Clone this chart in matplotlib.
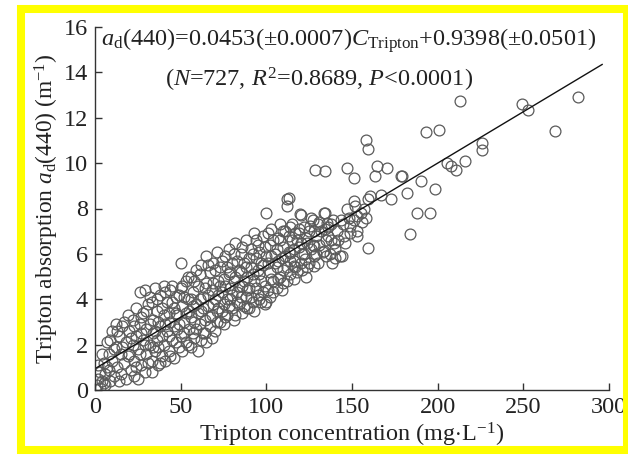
import numpy as np
import matplotlib.pyplot as plt
from matplotlib.patches import Rectangle

plt.rcParams['font.family'] = ['Liberation Serif', 'DejaVu Serif']
plt.rcParams['mathtext.fontset'] = 'custom'
plt.rcParams['mathtext.rm'] = 'Liberation Serif'
plt.rcParams['mathtext.it'] = 'Liberation Serif:italic'

# === Data: (tripton mg/L, a_d(440) 1/m) ===
cloud_low = [
    (1, 0.2), (2, 0.5), (3, 0.1), (3, 0.8), (4, 0.4), (5, 1.2), (5, 0.3), (6, 0.7), (7, 2.1), (8, 1.6),
    (8, 0.9), (9, 0.4), (10, 2.6), (10, 1.3), (11, 0.6), (12, 2.9), (12, 1.9), (13, 1.0), (14, 2.4), (15, 0.7),
    (15, 1.6), (16, 2.8), (17, 1.2), (18, 2.1), (18, 0.5), (19, 3.3), (20, 1.6), (20, 2.6), (21, 0.9), (22, 3.1),
    (22, 2.0), (23, 1.3), (24, 3.6), (24, 2.4), (25, 0.5), (25, 1.8), (26, 4.3), (26, 2.9), (27, 1.1), (28, 3.4),
    (28, 2.2), (29, 4.4), (29, 0.8), (30, 1.6), (30, 2.7), (31, 3.8), (32, 2.0), (32, 4.1), (33, 0.8), (33, 1.3),
    (34, 3.1), (34, 2.5), (35, 4.5), (35, 1.7), (36, 3.5), (36, 2.2), (37, 1.1), (38, 4.2), (38, 2.8), (39, 1.5),
    (40, 3.3), (40, 4.6), (40, 2.0), (41, 1.3), (42, 3.9), (42, 2.6), (43, 1.7), (44, 4.4), (44, 3.0), (45, 2.2),
    (46, 3.6), (46, 1.4), (47, 4.1), (48, 2.7), (48, 3.3), (49, 1.9), (50, 5.6), (50, 4.5), (50, 2.4), (51, 3.7),
    (51, 1.7), (52, 3.0), (53, 4.8), (53, 2.1), (54, 4.0), (55, 2.7), (55, 3.5), (56, 5.0), (56, 1.9), (57, 4.3),
    (58, 3.0), (58, 2.3), (59, 3.8), (59, 5.3),
    (2, 1.1), (4, 1.6), (6, 0.2), (7, 1.0), (9, 2.2), (11, 1.8), (13, 2.6), (14, 0.4), (16, 1.9), (17, 3.0),
    (19, 1.5), (21, 2.3), (23, 2.8), (23, 0.6), (24, 1.0), (26, 1.6), (27, 3.2), (27, 2.5), (29, 2.0), (30, 3.5),
    (31, 1.2), (32, 2.9), (33, 3.9), (34, 1.9), (35, 2.6), (36, 4.0), (37, 3.0), (37, 1.9), (38, 1.2), (39, 3.6),
    (39, 2.4), (41, 2.9), (41, 4.3), (43, 3.4), (43, 2.4), (44, 1.5), (45, 3.9), (45, 4.6), (46, 2.8), (47, 2.1),
    (47, 3.4), (49, 4.2), (49, 2.9), (51, 4.6), (52, 2.5), (52, 4.1), (53, 3.4), (54, 2.0), (54, 5.0), (56, 3.2),
    (56, 4.0), (57, 2.5), (57, 3.7), (58, 4.8), (59, 2.7),
]

cloud_mid = [
    (60, 1.7), (60, 4.6), (61, 2.9), (62, 3.5), (62, 5.5), (63, 4.1), (63, 2.5), (64, 3.1), (65, 5.9), (65, 2.1),
    (65, 4.7), (66, 3.7), (67, 5.2), (67, 2.8), (68, 4.4), (68, 3.3), (69, 5.6), (70, 4.0), (70, 2.6), (71, 6.1),
    (71, 3.5), (72, 4.8), (73, 3.0), (73, 5.4), (74, 4.3), (75, 2.9), (75, 3.8), (76, 5.9), (76, 4.6), (77, 3.3),
    (78, 5.1), (78, 6.2), (79, 4.0), (80, 3.6), (80, 5.6), (81, 4.8), (82, 3.3), (82, 6.5), (83, 4.3), (84, 5.3),
    (84, 3.8), (85, 6.0), (86, 4.6), (86, 3.4), (87, 5.6), (88, 4.1), (88, 6.6), (89, 5.0), (90, 3.6), (90, 4.5),
    (91, 6.2), (91, 5.4), (92, 3.9), (93, 4.8), (93, 6.9), (94, 5.8), (95, 4.2), (95, 6.4), (96, 5.1), (97, 3.9),
    (97, 5.6), (98, 6.8), (99, 4.6), (100, 7.8), (100, 3.9), (100, 5.9), (101, 4.4), (102, 6.4), (102, 5.2), (103, 7.1),
    (104, 4.8), (105, 5.6), (105, 6.0), (106, 4.5), (107, 6.7), (108, 5.0), (108, 7.3), (109, 5.8), (110, 6.3), (110, 4.7),
    (111, 7.0), (112, 5.4), (112, 8.4), (113, 6.1), (114, 5.1), (115, 6.6), (115, 7.3), (116, 5.7), (117, 6.9), (118, 5.2),
    (119, 6.3),
    (60, 3.4), (61, 4.0), (61, 5.1), (62, 2.2), (63, 3.6), (64, 4.5), (64, 2.5), (66, 4.2), (66, 5.5), (67, 3.2),
    (68, 2.3), (69, 3.8), (69, 4.7), (70, 5.3), (71, 3.0), (72, 4.2), (72, 3.6), (73, 4.6), (74, 5.7), (74, 3.5),
    (75, 4.9), (76, 3.2), (77, 5.4), (77, 4.0), (78, 3.7), (79, 5.2), (79, 4.5), (80, 4.2), (81, 6.0), (81, 3.1),
    (82, 5.0), (83, 5.7), (83, 3.9), (84, 4.6), (85, 4.1), (85, 5.2), (86, 6.3), (87, 3.7), (87, 4.8), (88, 5.4),
    (89, 4.4), (89, 3.6), (90, 5.8), (91, 4.1), (92, 5.1), (92, 6.0), (93, 3.5), (94, 4.5), (94, 6.6), (95, 5.3),
    (96, 4.0), (96, 6.1), (97, 4.8), (98, 5.5), (98, 4.3), (99, 6.3), (99, 3.8), (101, 5.6), (101, 6.9), (102, 4.1),
    (103, 4.9), (103, 5.9), (104, 6.6), (104, 4.3), (106, 5.4), (106, 6.2), (107, 4.9), (107, 5.7), (108, 6.6), (109, 4.4),
    (110, 5.3), (110, 7.0), (111, 5.9), (112, 4.8), (113, 6.8), (114, 7.2), (114, 5.7), (116, 6.2), (116, 4.9), (117, 5.4),
    (118, 6.6), (119, 7.1),
]

cloud_high = [
    (120, 7.7), (120, 5.6), (121, 6.0), (122, 7.2), (123, 6.7), (124, 5.4), (125, 7.0), (126, 6.2), (127, 7.5), (128, 5.9),
    (129, 6.8), (130, 7.3), (131, 6.4), (132, 7.0), (134, 7.8), (135, 6.6), (136, 7.2), (137, 6.0), (139, 7.5), (140, 5.8),
    (120, 6.5), (121, 5.3), (122, 6.0), (123, 5.0), (124, 6.5), (125, 5.6), (126, 7.6), (127, 6.4), (128, 7.0), (129, 6.0),
    (130, 5.6), (131, 7.4), (133, 6.1), (134, 7.1), (135, 5.9), (136, 6.8), (138, 6.6), (138, 7.3), (140, 6.2), (141, 7.0),
    (142, 6.6), (143, 5.9), (145, 7.3), (146, 6.5), (148, 7.6), (149, 6.9), (151, 7.5), (152, 8.1), (153, 7.0), (155, 7.8),
    (156, 7.4), (157, 8.0), (158, 7.6),
    (147.2, 7.96), (153, 7.66), (143.3, 7.5), (149.1, 7.22), (153, 6.78), (145.2, 6.78), (139.4, 6.49), (144.3, 5.9),
    (138.4, 5.61), (133.5, 6.12), (127.7, 6.34), (119.9, 7.74), (125.7, 7.22), (133.5, 7.81), (135.5, 7.37),
    (118.9, 6.93), (122.8, 5.76), (116, 5.46), (114, 6.05), (127.7, 5.46),
]

outliers = [
    (213, 12.72), (193, 11.35), (200.8, 11.47), (249, 12.6), (252.5, 12.32), (281.7, 12.9), (268.6, 11.4),
    (226, 10.9), (226, 10.6), (216, 10.1), (210.5, 9.7), (207.6, 9.86), (205.3, 10.0), (179.3, 9.45),
    (190.5, 9.2), (182, 8.69), (198.4, 8.84), (187.7, 7.81), (195.5, 7.81), (183.8, 6.86),
    (157.9, 11.03), (159.3, 10.62), (128.3, 9.69), (134, 9.64), (146.8, 9.79), (151, 9.35), (164.7, 9.86),
    (170.6, 9.79), (163.7, 9.45), (178.8, 9.42), (172.5, 8.4), (166.7, 8.6), (160.4, 8.54), (113, 8.47),
    (112, 8.13), (159.3, 6.24), (151, 8.32), (159.3, 8.4),
]

# regression from the figure annotation
slope = 0.0453
intercept = 0.9398
fit_range = [0, 296]


def plot_scatter():
    fig = plt.figure(figsize=(6.28, 4.55), dpi=100)
    ax = fig.add_axes([95 / 628, 65 / 455, 514 / 628, 363 / 455])

    pts = np.array(cloud_low + cloud_mid + cloud_high + outliers)
    ax.plot(pts[:, 0], pts[:, 1], 'o', ms=7.8, mfc='none', mec='#5a5a5a', mew=0.9)

    fx = np.array(fit_range, dtype=float)
    ax.plot(fx, slope * fx + intercept, color='#111111', lw=1.0)

    ax.set_xlim(0, 300)
    ax.set_ylim(0, 16)
    ax.set_xticks(np.arange(0, 301, 50))
    ax.set_yticks(np.arange(0, 17, 2))
    for side in ['top', 'right']:
        ax.spines[side].set_visible(False)
    for side in ['left', 'bottom']:
        ax.spines[side].set_color('#333333')
        ax.spines[side].set_linewidth(1.0)
    ax.tick_params(direction='in', length=5, width=1, colors='#333333', labelcolor='#222222', labelsize=17.5)
    ax.tick_params(axis='x', pad=5)
    ax.tick_params(axis='y', pad=5)

    ax.set_xlabel(r'Tripton concentration (mg$\cdot$L$^{-1}$)', fontsize=17.5, color='#222222', labelpad=2)
    ax.set_ylabel(r'Tripton absorption $a_{\rm d}$(440) (m$^{-1}$)', fontsize=16.8, color='#222222', labelpad=2)

    ax.text(0.012, 0.962, r'$a_{\rm d}$(440)=0.0453(±0.0007)$C_{\rm Tripton}$+0.9398(±0.0501)',
            transform=ax.transAxes, fontsize=17.5, color='#222222', va='center', ha='left')
    ax.text(0.436, 0.855, r'($N$=727, $R^2$=0.8689, $P$<0.0001)',
            transform=ax.transAxes, fontsize=17.5, color='#222222', va='center', ha='center')

    # yellow frame round the whole picture
    fig.patches.append(Rectangle((21 / 628, 5 / 455), 606 / 628, 441 / 455, transform=fig.transFigure,
                                 fill=False, edgecolor='#ffff00', linewidth=5.8, zorder=10))

    fig.savefig('out.png', dpi=100, facecolor='white')


if __name__ == '__main__':
    plot_scatter()
